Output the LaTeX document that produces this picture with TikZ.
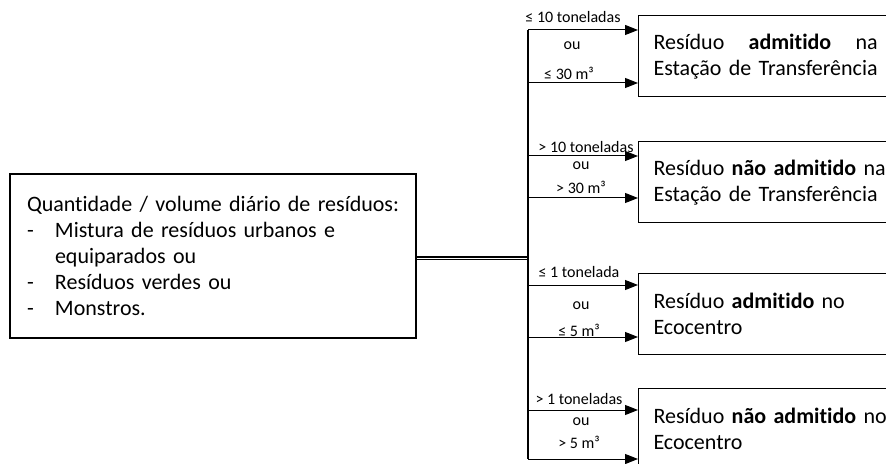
\documentclass[tikz,border=0pt]{standalone}
\usepackage{fontspec}
\setmainfont{Carlito}[Ligatures=NoCommon]
\usepackage{calc}
\usetikzlibrary{arrows.meta}
\newcommand{\arw}{-{Triangle[length=6.5pt,width=5pt]}}
\newcommand{\dashitem}{\makebox[14pt][l]{-}}

\begin{document}
\begin{tikzpicture}[x=.5pt,y=-.5pt,
  resbox/.style={draw,line width=.5pt,anchor=west,minimum width=133pt,minimum height=40.5pt,
    text width=118pt,inner xsep=7.5pt,align=left,font=\fontsize{11}{13}\selectfont},
  lbl/.style={font=\fontsize{8}{9}\selectfont,inner sep=0pt}]
\clip (0,0) rectangle (886,464);
%origem
\node[draw,line width=1pt,minimum height=82pt,text width=186pt,inner xsep=8.5pt,align=left,
  font=\fontsize{11}{13}\selectfont] (src) at (213,256)
  {\mbox{Quantidade / volume di\'ario de res\'iduos:}\\
   \dashitem Mistura de res\'iduos urbanos e\\
   \hspace*{14pt}equiparados ou\\
   \dashitem Res\'iduos verdes ou\\
   \dashitem Monstros.};
%destinos
\node[resbox] (admET) at (638,56.5)
  {\makebox[\widthof{Estação de Transferência}]{Resíduo\hfill\textbf{admitido}\hfill na}\\Estação de Transferência};
\node[resbox] (nadmET) at (638,182.5) {Resíduo \textbf{não admitido} na\\Estação de Transferência};
\node[resbox] (admEco) at (638,313.5) {Resíduo \textbf{admitido} no\\Ecocentro};
\node[resbox] (nadmEco) at (638,428.5) {Resíduo \textbf{não admitido} no\\Ecocentro};
%ligacoes
\coordinate (hub) at (528,258);
\coordinate (t1) at (528,30);
\coordinate (t2) at (528,83);
\coordinate (t3) at (528,156);
\coordinate (t4) at (528,198);
\coordinate (t5) at (528,285);
\coordinate (t6) at (528,337);
\coordinate (t7) at (528,410);
\coordinate (t8) at (528,459);
\draw[double,line width=.6pt,double distance=.5pt] (src.east |- hub) -- (hub);
\draw[line width=.75pt] (t1) -- (t8);
\foreach \a/\b in {t1/admET,t2/admET,t3/nadmET,t4/nadmET,t5/admEco,t6/admEco,t7/nadmEco,t8/nadmEco}
  \draw[line width=.5pt,\arw] (\a) -- (\a -| \b.west);
%limites
\node[lbl] (l1a) at (573,17) {≤ 10 toneladas};
\node[lbl] (l1b) at (572,46) {ou};
\node[lbl] (l1c) at (569,73) {≤ 30 m³};
\node[lbl] (l2a) at (586,147) {> 10 toneladas};
\node[lbl] (l2b) at (581,166) {ou};
\node[lbl] (l2c) at (581,187) {> 30 m³};
\node[lbl] (l3a) at (579,272) {≤ 1 tonelada};
\node[lbl] (l3b) at (581,306) {ou};
\node[lbl] (l3c) at (579,330) {≤ 5 m³};
\node[lbl] (l4a) at (579,399) {> 1 toneladas};
\node[lbl] (l4b) at (581,422) {ou};
\node[lbl] (l4c) at (579,442) {> 5 m³};
\end{tikzpicture}
\end{document}
